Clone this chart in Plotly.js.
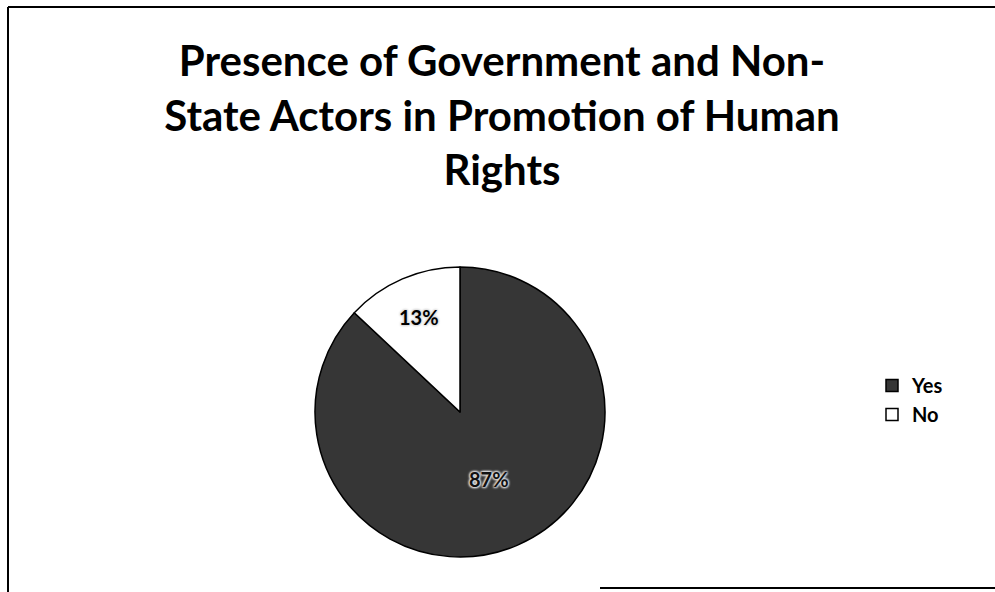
<!DOCTYPE html>
<html>
<head>
<meta charset="utf-8">
<script src="https://cdn.plot.ly/plotly-3.0.1.min.js"></script>
<style>html,body{margin:0;padding:0;background:#fff;}#chart{width:995px;height:592px;}</style>
</head>
<body>
<div id="chart"></div>
<script>
const categories = ["Yes", "No"];
const values = [87, 13];
const sliceColors = ["#363636", "#ffffff"];
const textColors = ["#111111", "#000000"];
const titleText = "Presence of Government and Non-<br>State Actors in Promotion of Human<br>Rights";

const W = 995, H = 592;
const px = x => x / W;
const py = y => 1 - y / H;

const trace = {
  type: "pie",
  labels: categories,
  values: values,
  sort: false,
  direction: "clockwise",
  rotation: 0,
  texttemplate: "%{percent:.0%}",
  textposition: "inside",
  insidetextorientation: "horizontal",
  marker: { colors: sliceColors, line: { color: "#000", width: 1.5 } },
  insidetextfont: { family: "Lato, 'Open Sans', sans-serif", size: 20, color: textColors, weight: "bold", shadow: "1px 1px 2px #ddd, -1px -1px 2px #ddd, 1px -1px 2px #ddd, -1px 1px 2px #ddd" },
  domain: { x: [px(315), px(605)], y: [py(557), py(267)] },
  hoverinfo: "label+percent",
  automargin: false
};

const layout = {
  width: W, height: H,
  margin: { l: 0, r: 0, t: 0, b: 0 },
  paper_bgcolor: "#fff",
  title: {
    text: titleText,
    font: { family: "Lato, 'Open Sans', sans-serif", size: 42, color: "#000", weight: "bold" },
    x: px(502), xanchor: "center",
    y: py(76), yanchor: "top"
  },
  showlegend: true,
  legend: {
    x: px(872), y: py(400), xanchor: "left", yanchor: "middle",
    font: { family: "Lato, 'Open Sans', sans-serif", size: 20, color: "#000", weight: "bold" },
    tracegroupgap: 0,
    bgcolor: "rgba(0,0,0,0)"
  },
  shapes: [
    { type: "line", xref: "paper", yref: "paper", x0: px(8), x1: px(995), y0: py(7), y1: py(7), line: { color: "#000", width: 2 } },
    { type: "line", xref: "paper", yref: "paper", x0: px(8), x1: px(8), y0: py(7), y1: py(592), line: { color: "#000", width: 2 } },
    { type: "line", xref: "paper", yref: "paper", x0: px(600), x1: px(995), y0: py(588), y1: py(588), line: { color: "#000", width: 2 } }
  ]
};

Plotly.newPlot("chart", [trace], layout, { displayModeBar: false, staticPlot: true });
</script>
</body>
</html>
